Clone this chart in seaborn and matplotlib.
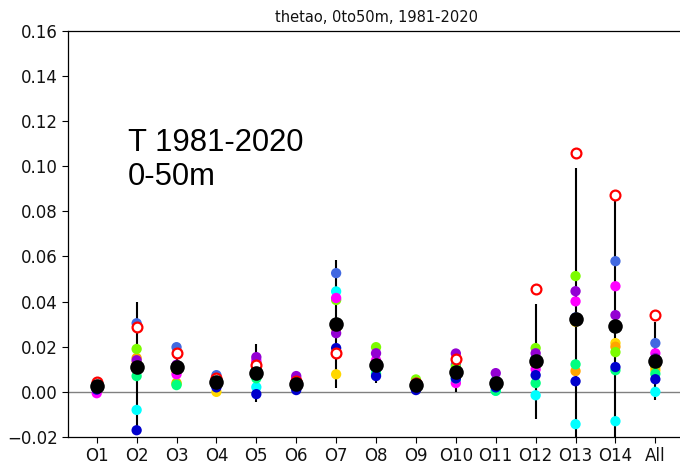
import numpy as np
import pandas as pd
import matplotlib
matplotlib.use("Agg")
import matplotlib.pyplot as plt
import seaborn as sns

regions = ["O1", "O2", "O3", "O4", "O5", "O6", "O7", "O8", "O9", "O10",
           "O11", "O12", "O13", "O14", "All"]

model_colors = ["royalblue", "cyan", "gold", "orange", "lawngreen",
                "magenta", "darkviolet", "springgreen", "mediumblue"]

royalblue = [0.003, 0.0304, 0.0198, 0.0074, 0.013, 0.005, 0.0526, 0.012, 0.004, 0.012, 0.005, 0.015, 0.033, 0.0579, 0.0216]
cyan = [0.002, -0.008, 0.010, 0.003, 0.0021, 0.003, 0.0445, 0.010, 0.002, 0.005, 0.0005, -0.0015, -0.0143, -0.013, 0.0]
gold = [0.002, 0.013, 0.009, 0.0, 0.009, 0.003, 0.0078, 0.011, 0.003, 0.008, 0.002, 0.012, 0.031, 0.0216, 0.0096]
orange = [0.003, 0.015, 0.004, 0.004, 0.010, 0.004, 0.028, 0.012, 0.004, 0.009, 0.003, 0.014, 0.0092, 0.020, 0.011]
lawngreen = [0.003, 0.019, 0.0035, 0.005, 0.011, 0.004, 0.0407, 0.0198, 0.0055, 0.011, 0.003, 0.0194, 0.0513, 0.0176, 0.012]
magenta = [-0.0006, 0.012, 0.0078, 0.005, 0.014, 0.006, 0.0416, 0.014, 0.003, 0.0039, 0.004, 0.010, 0.0401, 0.0468, 0.0171]
darkviolet = [0.002, 0.014, 0.012, 0.006, 0.0154, 0.007, 0.026, 0.0171, 0.004, 0.017, 0.0083, 0.0171, 0.0446, 0.034, 0.015]
springgreen = [0.002, 0.007, 0.003, 0.003, 0.006, 0.002, 0.030, 0.008, 0.002, 0.006, 0.0005, 0.0039, 0.0122, 0.0096, 0.008]
mediumblue = [0.001, -0.017, 0.010, 0.002, -0.001, 0.0008, 0.0194, 0.007, 0.0008, 0.006, 0.002, 0.0074, 0.0047, 0.011, 0.0056]

obs = [0.0043, 0.0287, 0.017, 0.006, 0.0118, 0.005, 0.0171, 0.012, 0.004, 0.0145, 0.004, 0.0455, 0.106, 0.0872, 0.034]
ens_mean = [0.0025, 0.011, 0.011, 0.0043, 0.0083, 0.0034, 0.030, 0.0118, 0.003, 0.0087, 0.0039, 0.0136, 0.0321, 0.029, 0.0136]
spread = [0.002, 0.029, 0.008, 0.003, 0.0127, 0.003, 0.0284, 0.008, 0.003, 0.0087, 0.004, 0.0254, 0.067, 0.0573, 0.0174]

model_values = [royalblue, cyan, gold, orange, lawngreen, magenta,
                darkviolet, springgreen, mediumblue]

rows = []
for col, vals in zip(model_colors, model_values):
    for r, v in zip(regions, vals):
        rows.append({"region": r, "value": v, "model": col})
df_models = pd.DataFrame(rows)
df_summary = pd.DataFrame({"region": regions, "obs": obs, "mean": ens_mean,
                           "lo": np.array(ens_mean) - np.array(spread),
                           "hi": np.array(ens_mean) + np.array(spread)})

sns.set_style("ticks")
plt.rcParams["font.family"] = ["DejaVu Sans"]
plt.rcParams["text.color"] = "black"

fig = plt.figure(figsize=(6.8, 4.69), dpi=100)
ax = fig.add_axes([0.1, 0.0682, 0.906, 0.8663])

ax.axhline(0, color="gray", lw=1.0, zorder=1)
ax.vlines(df_summary["region"], df_summary["lo"], df_summary["hi"],
          color="black", lw=1.5, zorder=2)

sns.scatterplot(data=df_models, x="region", y="value", hue="model",
                palette={c: c for c in model_colors}, hue_order=model_colors,
                s=55, linewidth=0, legend=False, ax=ax, zorder=3)
sns.scatterplot(data=df_summary, x="region", y="obs", color="white",
                edgecolor="red", linewidth=1.6, s=50, ax=ax, zorder=4)
sns.scatterplot(data=df_summary, x="region", y="mean", color="black",
                linewidth=0, s=110, ax=ax, zorder=5)

ax.set_xlim(-0.72, 14.72)
ax.set_ylim(-0.02, 0.16)
yt = np.arange(-0.02, 0.161, 0.02)
ax.set_yticks(yt)
ax.set_yticklabels([f"{t:.2f}".replace("-", "\u2212") for t in yt])
ax.tick_params(axis="both", labelsize=12, length=4, width=0.8, color="black", labelcolor="#111111")
ax.set_xlabel("")
ax.set_ylabel("")
for sp in ax.spines.values():
    sp.set_color("black")
    sp.set_linewidth(0.9)

ax.set_title("thetao, 0to50m, 1981-2020", fontsize=10.5, pad=6, color="#111111")
ax.text(0.0974, 0.76, "T 1981-2020\n0-50m", transform=ax.transAxes,
        fontsize=22.3, va="top", ha="left", color="black",
        family=["Liberation Sans", "DejaVu Sans"], linespacing=1.15)

fig.savefig("out.png", dpi=100)
